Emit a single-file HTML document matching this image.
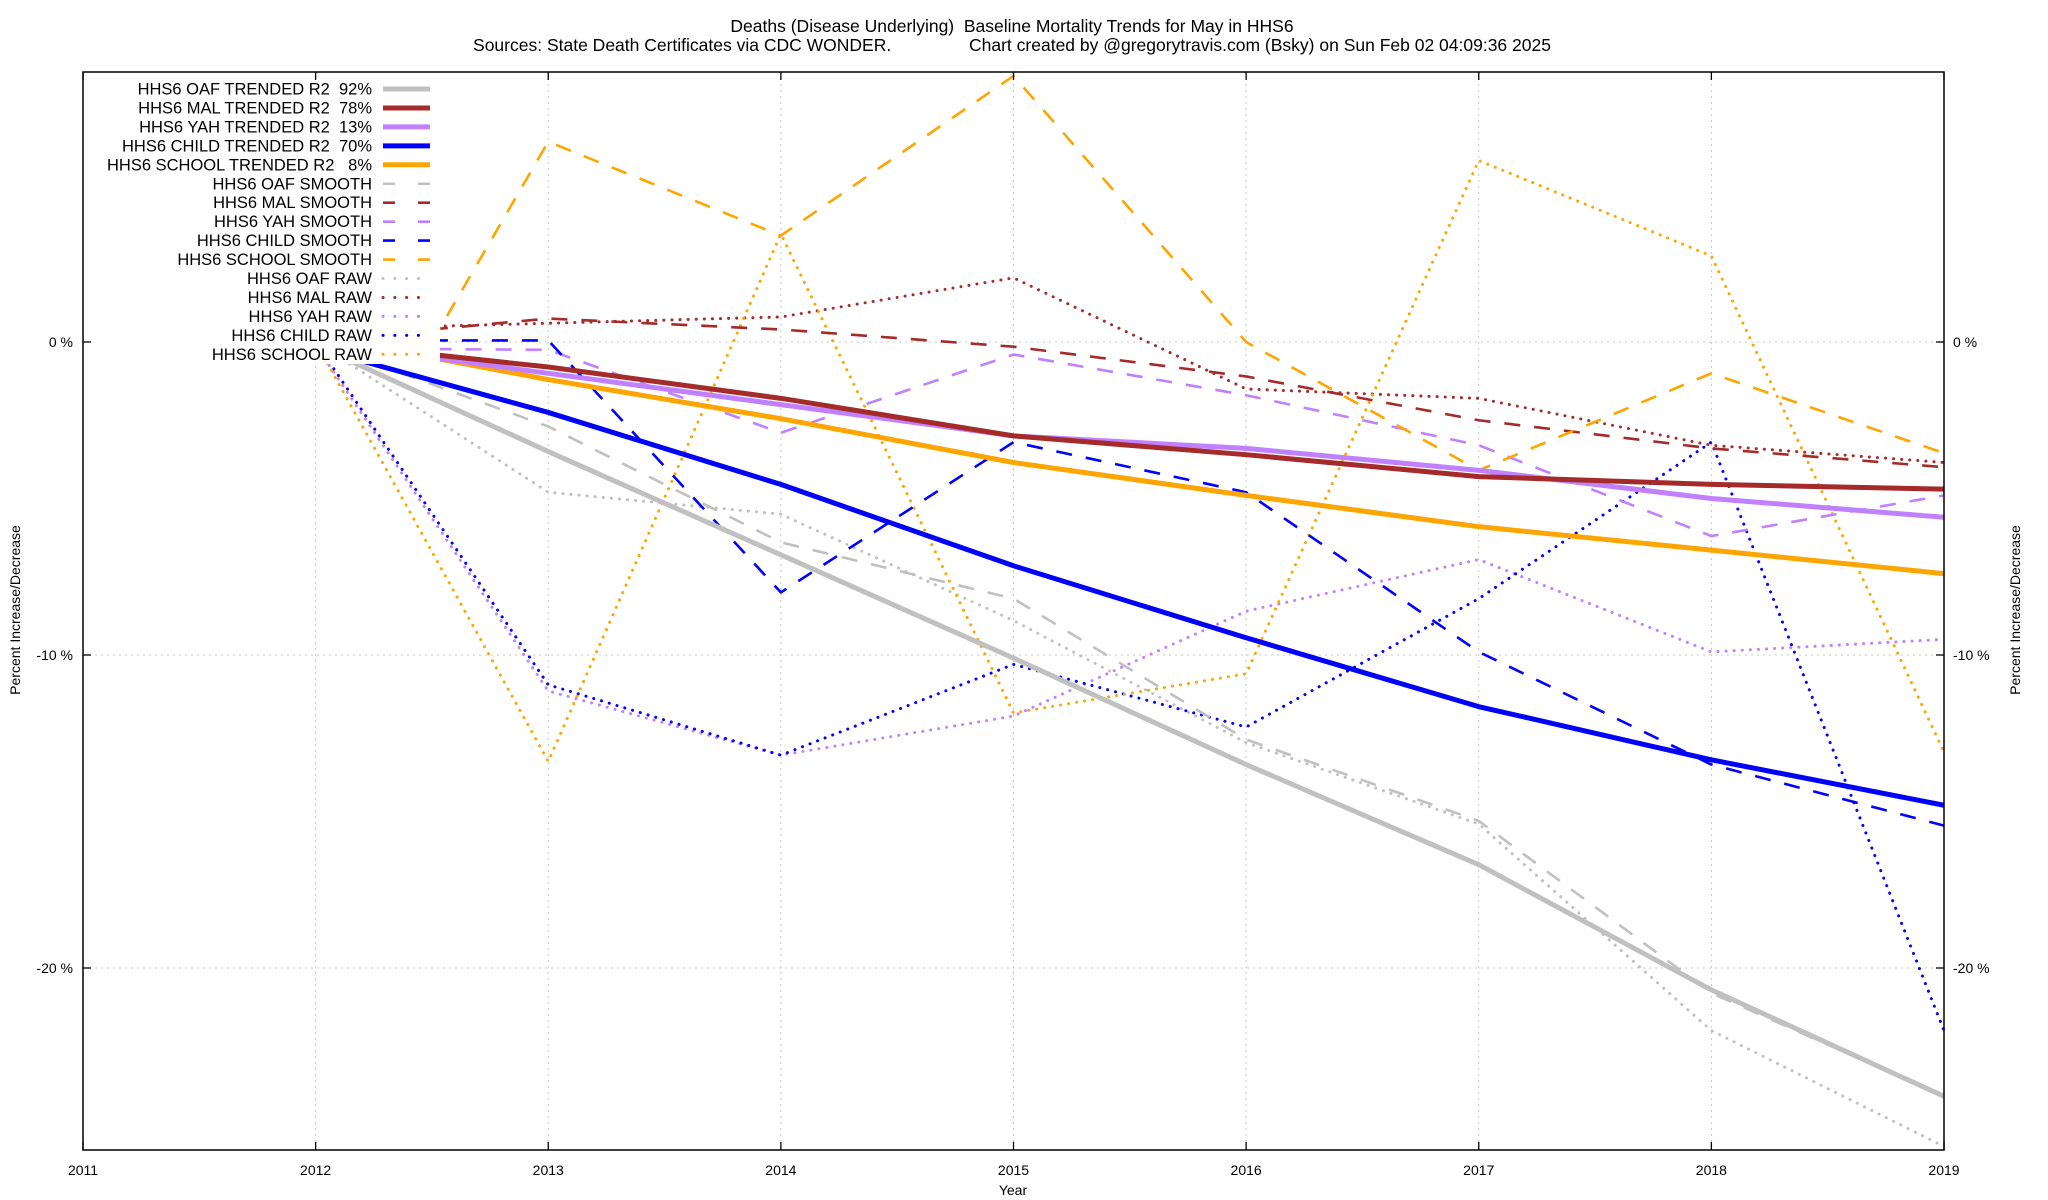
<!DOCTYPE html>
<html><head><meta charset="utf-8"><style>
html,body{margin:0;padding:0;background:#fff;}
svg{display:block;font-family:"Liberation Sans",sans-serif;}
text{white-space:pre;}
</style></head><body>
<svg id="chart" width="2048" height="1200" viewBox="0 0 2048 1200" xmlns="http://www.w3.org/2000/svg">
<text x="1012" y="32" text-anchor="middle" font-size="17.5">Deaths (Disease Underlying)  Baseline Mortality Trends for May in HHS6</text>
<text x="1012" y="51" text-anchor="middle" font-size="17.5">Sources: State Death Certificates via CDC WONDER.                Chart created by @gregorytravis.com (Bsky) on Sun Feb 02 04:09:36 2025</text>
<g id="grid"></g>
<g id="series"></g>
<g id="legend"></g>
<g id="axes"></g>
<text x="1013" y="1195" text-anchor="middle" font-size="14">Year</text>
<text transform="translate(20,610) rotate(-90)" text-anchor="middle" font-size="14">Percent Increase/Decrease</text>
<text transform="translate(2020,610) rotate(-90)" text-anchor="middle" font-size="14">Percent Increase/Decrease</text>
</svg>
<script>
const years = [2011,2012,2013,2014,2015,2016,2017,2018,2019];
const yTicks = [0,-10,-20];
const yTickLabels = ["0 %","-10 %","-20 %"];
const yrs = [2012,2013,2014,2015,2016,2017,2018,2019];
const trendYears = [2012.5,2013,2014,2015,2016,2017,2018,2019];
const oafTrend   = [-0.1,-3.5,-6.8,-10.1,-13.5,-16.7,-20.7,-24.1];
const malTrend   = [-0.4,-0.8,-1.8,-3.0,-3.6,-4.3,-4.55,-4.7];
const yahTrend   = [-0.5,-1.0,-2.0,-3.0,-3.4,-4.1,-5.0,-5.6];
const childTrend = [-0.2,-2.25,-4.55,-7.15,-9.45,-11.65,-13.35,-14.8];
const schoolTrend= [-0.5,-1.2,-2.45,-3.85,-4.9,-5.9,-6.65,-7.4];
const oafSmooth   = [0,-2.7,-6.4,-8.2,-12.7,-15.3,-20.8,-24.1];
const malSmooth   = [0.4,0.75,0.4,-0.15,-1.1,-2.5,-3.4,-4.0];
const yahSmooth   = [-0.2,-0.25,-2.9,-0.4,-1.7,-3.3,-6.2,-4.9];
const childSmooth = [0.05,0.05,-8.0,-3.2,-4.8,-9.9,-13.5,-15.45];
const schoolSmooth= [0,6.4,3.4,8.5,0,-4.1,-1.0,-3.55];
const oafRaw   = [0,-4.8,-5.5,-8.9,-12.8,-15.4,-22.0,-25.7];
const malRaw   = [0.4,0.6,0.8,2.05,-1.5,-1.8,-3.3,-3.85];
const yahRaw   = [-0.1,-11.15,-13.2,-11.95,-8.6,-6.95,-9.9,-9.5];
const childRaw = [0,-10.95,-13.2,-10.3,-12.3,-8.2,-3.2,-22.0];
const schoolRaw= [0,-13.4,3.45,-11.85,-10.6,5.8,2.75,-13.1];

const NS="http://www.w3.org/2000/svg";
const L=83,R=1944,T=72,B=1150;
const X=y=>L+(y-2011)*(R-L)/8;
const Y=v=>342-v*31.3;
function mk(tag,parent,attrs){const e=document.createElementNS(NS,tag);for(const k in attrs)e.setAttribute(k,attrs[k]);document.getElementById(parent).appendChild(e);return e;}

years.forEach((yr,i)=>{
  const g=mk('line','grid',{x1:X(yr),x2:X(yr),y1:T,y2:B,stroke:'#c8c8c8','stroke-width':1,'stroke-dasharray':'2 4'});
  
  
  const t=mk('line','axes',{x1:X(yr),x2:X(yr),y1:B,y2:B-8,stroke:'#000','stroke-width':1.3});
  
  
  const t2=mk('line','axes',{x1:X(yr),x2:X(yr),y1:T,y2:T+8,stroke:'#000','stroke-width':1.3});
  
  
  const lb=mk('text','axes',{x:X(yr),y:1175,'text-anchor':'middle','font-size':14});
  lb.textContent=yr;
  
  
});
yTicks.forEach((v,i)=>{
  const g=mk('line','grid',{x1:L,x2:R,y1:Y(v),y2:Y(v),stroke:'#c8c8c8','stroke-width':1,'stroke-dasharray':'2 4'});
  
  
  const t=mk('line','axes',{x1:L,x2:L+8,y1:Y(v),y2:Y(v),stroke:'#000','stroke-width':1.3});
  
  
  const t2=mk('line','axes',{x1:R-8,x2:R,y1:Y(v),y2:Y(v),stroke:'#000','stroke-width':1.3});
  
  
  const a=mk('text','axes',{x:73,y:Y(v)+5,'text-anchor':'end','font-size':14});
  a.textContent=yTickLabels[i];
  
  
  const b=mk('text','axes',{x:1953,y:Y(v)+5,'text-anchor':'start','font-size':14});
  b.textContent=yTickLabels[i];
  
  
});
const frame=mk('rect','axes',{x:L,y:T,width:R-L,height:B-T,fill:'none',stroke:'#000','stroke-width':1.5});



const C={oaf:'#c0c0c0',mal:'#a52a2a',yah:'#c080ff',child:'#0000ff',school:'#ffa500'};
const ST={trend:{w:5,d:null,cap:'butt'},smooth:{w:2.6,d:'16 14',cap:'butt'},raw:{w:3,d:'0.1 8',cap:'round'}};
const series=[
 ['oaf-raw',yrs,oafRaw,C.oaf,'raw'],['mal-raw',yrs,malRaw,C.mal,'raw'],['yah-raw',yrs,yahRaw,C.yah,'raw'],['child-raw',yrs,childRaw,C.child,'raw'],['school-raw',yrs,schoolRaw,C.school,'raw'],
 ['oaf-smooth',yrs,oafSmooth,C.oaf,'smooth'],['mal-smooth',trendYears,malSmooth,C.mal,'smooth'],['yah-smooth',yrs,yahSmooth,C.yah,'smooth'],['child-smooth',trendYears,childSmooth,C.child,'smooth'],['school-smooth',trendYears,schoolSmooth,C.school,'smooth'],
 ['oaf-trend',yrs,oafTrend,C.oaf,'trend'],['school-trend',trendYears,schoolTrend,C.school,'trend'],['child-trend',yrs,childTrend,C.child,'trend'],['yah-trend',trendYears,yahTrend,C.yah,'trend'],['mal-trend',trendYears,malTrend,C.mal,'trend']
];
series.forEach(s=>{
  const st=ST[s[4]];
  const pts=s[1].map((x,i)=>X(x)+','+Y(s[2][i])).join(' ');
  const a={points:pts,fill:'none',stroke:s[3],'stroke-width':st.w,'stroke-linecap':st.cap,'stroke-linejoin':'round'};
  if(st.d)a['stroke-dasharray']=st.d;
  const p=mk('polyline','series',a);
  
  
});

const legendLabels=["HHS6 OAF TRENDED R2  92%","HHS6 MAL TRENDED R2  78%","HHS6 YAH TRENDED R2  13%","HHS6 CHILD TRENDED R2  70%","HHS6 SCHOOL TRENDED R2   8%","HHS6 OAF SMOOTH","HHS6 MAL SMOOTH","HHS6 YAH SMOOTH","HHS6 CHILD SMOOTH","HHS6 SCHOOL SMOOTH","HHS6 OAF RAW","HHS6 MAL RAW","HHS6 YAH RAW","HHS6 CHILD RAW","HHS6 SCHOOL RAW"];
const legendColors=[C.oaf,C.mal,C.yah,C.child,C.school];
const bg=mk('rect','legend',{x:86,y:78,width:354,height:286,fill:'#fff'});


legendLabels.forEach((lab,i)=>{
  const y=89+i*18.95;
  const t=mk('text','legend',{x:372,y:y+5.5,'text-anchor':'end','font-size':16.5});
  t.textContent=lab;
  
  
  const kind=i<5?'trend':(i<10?'smooth':'raw');
  const st=ST[kind];
  const a={x1:383,x2:430,y1:y,y2:y,stroke:legendColors[i%5],'stroke-width':st.w,'stroke-linecap':st.cap};
  if(kind==='smooth')a['stroke-dasharray']='12 23';
  if(kind==='raw')a['stroke-dasharray']='0.1 11.7';
  const ln=mk('line','legend',a);
  
  
});
</script>
</body></html>
